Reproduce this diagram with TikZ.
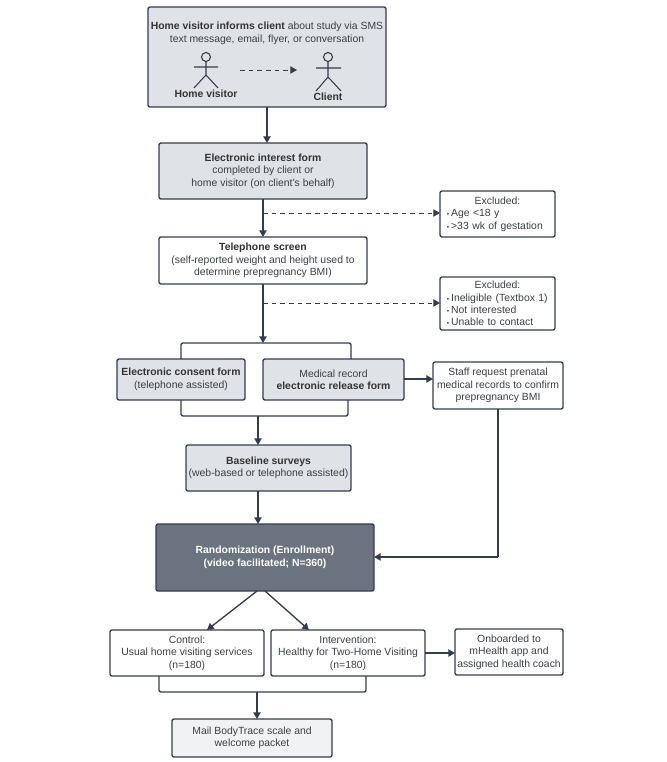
\documentclass[tikz,border=0pt]{standalone}
\usepackage{fontspec}
\setmainfont{Liberation Sans}
\usetikzlibrary{arrows.meta}
\definecolor{linecol}{HTML}{343D4C}
\definecolor{textcol}{HTML}{3A3F47}
\definecolor{boxgray}{HTML}{DFE2E7}
\definecolor{boxdark}{HTML}{6B7280}
\definecolor{boxpale}{HTML}{F1F2F4}
\tikzset{
  box/.style 2 args={draw=linecol,line width=1pt,rounded corners=1.5pt,outer sep=0pt,inner sep=0pt,
    minimum width=#1*0.75pt,minimum height=#2*0.75pt,align=center,text=textcol,
    font=\fontsize{7.8}{9.3}\selectfont},
  conn/.style={draw=linecol,line width=1pt,-{Triangle[length=5pt,width=5.5pt]}},
  bracket/.style={draw=linecol,line width=1pt,rounded corners=1.5pt},
  dashconn/.style={conn,line width=0.7pt,dash pattern=on 3.5pt off 3pt},
  actor/.style={draw=linecol,line width=0.8pt},
  lbl/.style={text=textcol,align=center,inner sep=0pt,font=\fontsize{7.8}{9.3}\selectfont}
}
\newcommand{\hd}[1]{{\bfseries\color{black!80}#1}}
\newcommand{\bul}{{\fontsize{5}{5}\selectfont\textbullet}\hspace{1.5pt}}
\begin{document}
\begin{tikzpicture}[x=0.75pt,y=-0.75pt]
\useasboundingbox (0,0) rectangle (666,762);

\node[box={238}{100},fill=boxgray] (top) at (267,57) {};
\node[lbl] (toptxt) at (267,33.5) {\hd{Home visitor informs client} about study via SMS\\text message, email, flyer, or conversation};

% the two actors
\draw[actor] (206,57) circle (4.5);
\draw[actor] (206,61.5)--(206,75) (194,67)--(218,67) (194,88)--(206,75)--(218,88);
\draw[actor] (328,57) circle (4.5);
\draw[actor] (328,61.5)--(328,77) (316,68)--(341,68) (316,91)--(328,77)--(341,91);
\node[lbl] (visitor) at (206,94) {\hd{Home visitor}};
\node[lbl] (client) at (328,97) {\hd{Client}};
\coordinate (talkA) at (240,70);
\coordinate (talkB) at (297,70);
\draw[dashconn] (talkA)--(talkB);

\node[box={208}{56},fill=boxgray] (interest) at (263,171) {\hd{Electronic interest form}\\completed by client or\\home visitor (on client's behalf)};
\node[box={208}{47}] (phone) at (263,260.5) {\hd{Telephone screen}\\(self-reported weight and height used to\\determine prepregnancy BMI)};

\node[box={115}{46},align=left,text width=76pt] (exclA) at (497.5,214) {\makebox[\linewidth]{Excluded:}\\\bul Age <18 y\\\bul >33 wk of gestation};
\node[box={115}{53},align=left,text width=76pt] (exclB) at (497.5,303.5) {\makebox[\linewidth]{Excluded:}\\\bul Ineligible (Textbox 1)\\\bul Not interested\\\bul Unable to contact};

\node[box={128}{41},fill=boxgray] (consent) at (181,379.5) {\hd{Electronic consent form}\\(telephone assisted)};
\node[box={141}{41},fill=boxgray] (release) at (333.5,379.5) {Medical record\\\hd{electronic release form}};
\node[box={130}{47}] (staff) at (498,385.5) {Staff request prenatal\\medical records to confirm\\prepregnancy BMI};
\node[box={165}{46},fill=boxgray] (base) at (268.5,468) {\hd{Baseline surveys}\\(web-based or telephone assisted)};
\node[box={218}{67},fill=boxdark,text=white] (rand) at (265,557.5) {\bfseries Randomization (Enrollment)\\\bfseries (video facilitated; N=360)};

\node[box={154}{46}] (control) at (187,653) {Control:\\Usual home visiting services\\(n=180)};
\node[box={154}{46}] (interv) at (348,653) {Intervention:\\Healthy for Two-Home Visiting\\(n=180)};
\node[box={108}{46}] (onboard) at (509,652) {Onboarded to\\mHealth app and\\assigned health coach};
\node[box={160}{38},fill=boxpale] (mail) at (252,738) {Mail BodyTrace scale and\\welcome packet};

\coordinate (joinA) at (263,343);
\coordinate (joinAr) at (351,343);
\coordinate (joinB) at (258,416);
\coordinate (joinBr) at (348,416);
\coordinate (joinC) at (257,692);
\coordinate (dashA) at (263,213);
\coordinate (dashB) at (263,303);
\coordinate (recIn) at (404,379);
\coordinate (corner) at (498,557);
\coordinate (splitL) at (257,591);
\coordinate (splitR) at (265,591);
\coordinate (tipL) at (207,630);
\coordinate (tipR) at (309,630);
\coordinate (armL) at (159,676);
\coordinate (armR) at (366,676);
\coordinate (armB) at (366,692);

\draw[conn] (top.south)--(top.south |- interest.north);
\draw[conn] (interest.south)--(phone.north);
\draw[dashconn] (dashA)--(exclA.west |- dashA);
\draw[dashconn] (dashB)--(exclB.west |- dashB);

\draw[bracket] (consent.north) |- (joinAr) -- (joinAr |- release.north);
\draw[conn] (phone.south)--(joinA);
\draw[bracket] (consent.south) |- (joinBr) -- (joinBr |- release.south);
\draw[conn] (joinB)--(joinB |- base.north);
\draw[conn] (joinB |- base.south)--(joinB |- rand.north);
\draw[conn] (recIn)--(staff.west |- recIn);
\draw[line width=1pt,draw=linecol] (staff.south)--(corner);
\draw[conn] (corner)--(rand.east |- corner);

\draw[conn] (splitL)--(tipL);
\draw[conn] (splitR)--(tipR);
\draw[bracket] (armL) |- (armB) -- (armR);
\draw[conn] (joinC)--(joinC |- mail.north);
\draw[conn] (interv.east)--(onboard.west |- interv.east);
\end{tikzpicture}
\end{document}
